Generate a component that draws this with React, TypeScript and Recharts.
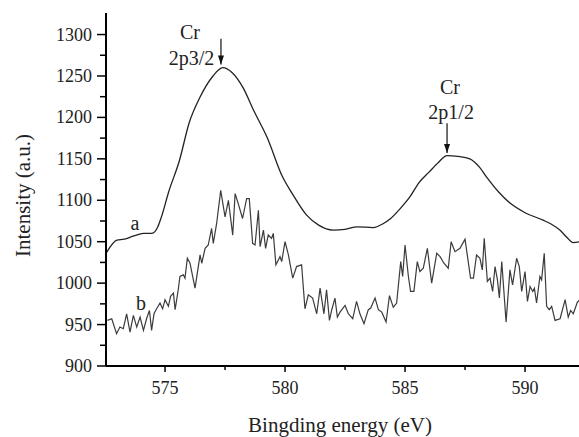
import React from 'react';
import { LineChart, Line, XAxis, YAxis, ReferenceLine, ReferenceDot, Label } from 'recharts';

// curve a: smooth spectrum
const aEnergy = [
  572.54, 573.0, 573.3, 573.7, 574.1, 574.45, 574.7, 574.85, 575.15, 575.6, 576.0, 576.45, 577.0, 577.4,
  577.8, 578.25, 578.7, 579.25, 579.9, 580.3, 580.9, 581.4, 582.0, 582.5, 583.0, 583.67, 584.1, 584.4,
  584.8, 585.2, 585.6, 586.0, 586.4, 586.75, 587.2, 587.7, 588.1, 588.4, 588.9, 589.4, 590.0, 590.75,
  591.1, 591.45, 591.75, 592.0, 592.29,
];
const aIntensity = [
  1036, 1052, 1053, 1057, 1060, 1060, 1068, 1080, 1110, 1148, 1193, 1224, 1250, 1260,
  1254, 1236, 1208, 1176, 1128, 1108, 1082, 1070, 1064, 1065, 1068, 1067, 1072, 1078,
  1090, 1104, 1122, 1134, 1146, 1154, 1153, 1150, 1140, 1128, 1110, 1096, 1085, 1076,
  1071, 1064, 1055, 1049, 1050,
];

// curve b: noisy spectrum
const bEnergy = [
  572.6, 572.78, 572.98, 573.12, 573.26, 573.4, 573.54, 573.68, 573.82, 573.96, 574.1, 574.23, 574.35,
  574.44, 574.54, 574.65, 574.79, 574.9, 575.0, 575.14, 575.23, 575.35, 575.42, 575.55, 575.62, 575.76,
  575.83, 575.93, 576.04, 576.25, 576.46, 576.53, 576.67, 576.8, 576.94, 577.01, 577.15, 577.32, 577.5,
  577.64, 577.82, 577.92, 578.05, 578.23, 578.4, 578.51, 578.65, 578.75, 578.89, 578.96, 579.1, 579.19,
  579.3, 579.44, 579.51, 579.62, 579.79, 579.86, 580.0, 580.14, 580.32, 580.48, 580.69, 580.83, 580.97,
  581.15, 581.32, 581.46, 581.62, 581.73, 581.85, 581.94, 582.08, 582.18, 582.29, 582.5, 582.64, 582.82,
  582.98, 583.12, 583.29, 583.47, 583.57, 583.75, 583.89, 584.03, 584.21, 584.35, 584.51, 584.65, 584.82,
  584.9, 585.0, 585.14, 585.23, 585.37, 585.51, 585.62, 585.76, 585.93, 586.11, 586.32, 586.46, 586.62,
  586.8, 586.92, 587.08, 587.29, 587.5, 587.73, 587.85, 587.98, 588.12, 588.22, 588.3, 588.43, 588.54,
  588.65, 588.75, 588.85, 588.93, 589.03, 589.21, 589.37, 589.48, 589.65, 589.76, 589.86, 590.0, 590.1,
  590.21, 590.32, 590.39, 590.48, 590.62, 590.69, 590.8, 590.9, 591.01, 591.11, 591.25, 591.46, 591.67,
  591.8, 591.9, 592.01, 592.18, 592.29,
];
const bIntensity = [
  955, 957, 939, 947, 945, 963, 941, 961, 947, 959, 943, 957, 967,
  943, 963, 969, 976, 969, 980, 972, 984, 988, 968, 992, 1008, 1010,
  1006, 1030, 1024, 994, 1034, 1024, 1042, 1046, 1066, 1048, 1072, 1112, 1080,
  1100, 1058, 1108, 1096, 1078, 1102, 1102, 1048, 1046, 1088, 1044, 1064, 1042,
  1058, 1054, 1060, 1022, 1032, 1026, 1050, 1034, 1006, 1020, 1022, 969, 986,
  982, 963, 994, 963, 992, 955, 967, 982, 959, 965, 973, 963, 957,
  978, 963, 951, 968, 970, 982, 968, 965, 953, 985, 971, 976, 1026,
  1008, 1046, 1008, 990, 990, 1026, 1014, 1018, 1042, 1000, 1036, 1032, 1024,
  1018, 1050, 1038, 1042, 1053, 1006, 1006, 1034, 1030, 1016, 1054, 1002, 1006,
  990, 1020, 1004, 982, 1026, 953, 1016, 998, 1030, 1020, 990, 1014, 978,
  996, 990, 994, 976, 1008, 1004, 1036, 972, 968, 972, 955, 957, 980,
  959, 967, 963, 977, 980,
];

const xTicks = [575, 577.5, 580, 582.5, 585, 587.5, 590];
const yTicks = [900, 925, 950, 975, 1000, 1025, 1050, 1075, 1100, 1125, 1150, 1175, 1200, 1225, 1250, 1275, 1300];

// annotations placed in data units
const notes = [
  { text: 'Cr', x: 576.04, y: 1303 },
  { text: '2p3/2', x: 576.1, y: 1272 },
  { text: 'Cr', x: 586.87, y: 1237 },
  { text: '2p1/2', x: 586.92, y: 1206 },
  { text: 'a', x: 573.75, y: 1073 },
  { text: 'b', x: 574.0, y: 976 },
];
const arrows = [
  { x: 577.33, from: 1295, to: 1264 },
  { x: 586.75, from: 1193, to: 1157 },
];

const seriesA = aEnergy.map((e, i) => ({ e, v: aIntensity[i] }));
const seriesB = bEnergy.map((e, i) => ({ e, v: bIntensity[i] }));

const FONT = '"Liberation Serif", "DejaVu Serif", serif';

function YTick(props: any) {
  const { x, y, payload } = props;
  const major = payload.value % 50 === 0;
  return (
    <g>
      <line x1={x - (major ? 9 : 6)} x2={x} y1={y} y2={y} stroke="#000" strokeWidth={1.5} />
      {major && (
        <text x={x - 14} y={y} textAnchor="end" dominantBaseline="central" fontFamily={FONT} fontSize={18} fill="#222">
          {payload.value}
        </text>
      )}
    </g>
  );
}

function XTick(props: any) {
  const { x, y, payload } = props;
  const major = payload.value % 5 === 0;
  return (
    <g>
      <line x1={x} x2={x} y1={y} y2={y + (major ? 6 : 4)} stroke="#000" strokeWidth={1.5} />
      {major && (
        <text x={x} y={y + 22} textAnchor="middle" dominantBaseline="central" fontFamily={FONT} fontSize={18} fill="#222">
          {payload.value}
        </text>
      )}
    </g>
  );
}

export default function App() {
  return (
    <div style={{ position: 'absolute', left: 0, top: 0, width: 579, height: 437, overflow: 'hidden', background: '#fff' }}>
      <LineChart width={580} height={437} margin={{ top: 13, right: 0, bottom: 0, left: 0 }}>
        <XAxis
          dataKey="e"
          type="number"
          domain={[572.54, 592.29]}
          allowDataOverflow
          ticks={xTicks}
          interval={0}
          tick={<XTick />}
          tickLine={false}
          tickSize={0}
          tickMargin={0}
          height={71}
          axisLine={{ stroke: '#000', strokeWidth: 2 }}
        >
          <Label
            content={(p: any) => (
              <text
                x={p.viewBox.x + p.viewBox.width / 2 - 3}
                y={p.viewBox.y + 59}
                textAnchor="middle"
                dominantBaseline="central"
                fontFamily={FONT}
                fontSize={21}
                fill="#222"
              >
                Bingding energy (eV)
              </text>
            )}
          />
        </XAxis>
        <XAxis
          xAxisId="top"
          orientation="top"
          type="number"
          domain={[572.54, 592.29]}
          height={0}
          tick={false}
          tickLine={false}
          axisLine={{ stroke: '#000', strokeWidth: 2 }}
        />
        <YAxis
          type="number"
          domain={[900, 1326]}
          allowDataOverflow
          ticks={yTicks}
          interval={0}
          tick={<YTick />}
          tickLine={false}
          tickSize={0}
          tickMargin={0}
          width={106}
          axisLine={{ stroke: '#000', strokeWidth: 2 }}
        >
          <Label
            content={(p: any) => {
              const cx = p.viewBox.x + 23;
              const cy = p.viewBox.y + p.viewBox.height / 2 + 6;
              return (
                <text
                  x={cx}
                  y={cy}
                  transform={`rotate(-90 ${cx} ${cy})`}
                  textAnchor="middle"
                  dominantBaseline="central"
                  fontFamily={FONT}
                  fontSize={21}
                  fill="#222"
                >
                  Intensity (a.u.)
                </text>
              );
            }}
          />
        </YAxis>
        <Line
          data={seriesA}
          dataKey="v"
          type="monotone"
          stroke="#222"
          strokeWidth={1.3}
          dot={false}
          isAnimationActive={false}
        />
        <Line
          data={seriesB}
          dataKey="v"
          type="linear"
          stroke="#3c3c3c"
          strokeWidth={1.2}
          dot={false}
          isAnimationActive={false}
        />
        {arrows.map((a, i) => (
          <ReferenceLine
            key={'al' + i}
            segment={[{ x: a.x, y: a.from }, { x: a.x, y: a.to }]}
            stroke="#111"
            strokeWidth={1.2}
          />
        ))}
        {arrows.map((a, i) => (
          <ReferenceDot
            key={'ah' + i}
            x={a.x}
            y={a.to}
            r={1}
            shape={(p: any) => (
              <path d={`M${p.cx},${p.cy} L${p.cx - 3},${p.cy - 9} L${p.cx + 3},${p.cy - 9} Z`} fill="#111" />
            )}
          />
        ))}
        {notes.map((n, i) => (
          <ReferenceDot
            key={'n' + i}
            x={n.x}
            y={n.y}
            r={1}
            shape={(p: any) => (
              <text x={p.cx} y={p.cy} textAnchor="middle" dominantBaseline="central" fontFamily={FONT} fontSize={20} fill="#222">
                {n.text}
              </text>
            )}
          />
        ))}
      </LineChart>
    </div>
  );
}
